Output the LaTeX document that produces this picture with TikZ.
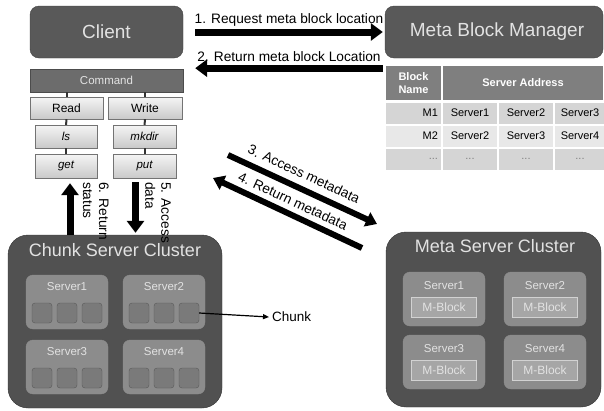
\documentclass[tikz,border=0pt]{standalone}
\usepackage{fontspec}
\setmainfont{Liberation Sans}
\usepackage{tikz}
\usetikzlibrary{arrows.meta}

\definecolor{boxgray}{HTML}{595959}
\definecolor{clustergray}{HTML}{515151}
\definecolor{srvgray}{HTML}{8C8C8C}
\definecolor{cubegray}{HTML}{7A7A7A}
\definecolor{lighttext}{HTML}{E2E2E2}
\definecolor{headgray}{HTML}{7F7F7F}
\definecolor{rowdark}{HTML}{D5D5D5}
\definecolor{rowlight}{HTML}{E8E8E8}

\tikzset{
  topbox/.style={draw=black!75, fill=boxgray, rounded corners=9pt, text=lighttext,
    inner sep=0pt, minimum height=52pt, font=\fontsize{19}{22}\selectfont},
  opbox/.style={draw=black!55, top color=gray!8, bottom color=gray!42, inner sep=0pt,
    minimum height=22pt, font=\fontsize{12}{14}\selectfont},
  link/.style={line width=2pt, draw=black!80},
  bigarrow/.style={line width=7pt, -{Triangle[length=12pt,width=17pt]}},
  diagarrow/.style={line width=6pt},
  cluster/.style={draw=black!80, fill=clustergray, rounded corners=20pt, inner sep=0pt},
  clustitle/.style={text=lighttext, font=\fontsize{18}{22}\selectfont},
  srvbox/.style={draw=black!45, fill=srvgray, rounded corners=7pt, inner sep=0pt,
    minimum width=82pt, minimum height=54pt},
  srvlabel/.style={text=lighttext, font=\fontsize{11.5}{13}\selectfont},
  cube/.style={draw=black!65, fill=cubegray, rounded corners=3pt, inner sep=0pt, minimum size=20pt},
  mblock/.style={draw=gray!35, fill=gray!70, inner sep=0pt, minimum width=65pt, minimum height=20pt,
    text=lighttext, font=\fontsize{12}{14}\selectfont},
  cell/.style={draw=white, line width=2pt, inner sep=0pt, font=\fontsize{11}{13}\selectfont},
  steplabel/.style={font=\fontsize{13.7}{16}\selectfont, inner sep=0pt}
}

\begin{document}
\begin{tikzpicture}[x=1pt,y=-1pt]
\useasboundingbox[fill=white] (0,0) rectangle (604,410);

% client side
\node[topbox, minimum width=153pt] (client) at (106.5,32) {Client};
\node[draw=black!70, fill=gray!85!black, text=lighttext, inner sep=0pt, minimum width=153pt,
  minimum height=23pt, font=\fontsize{11.5}{14}\selectfont] (cmd) at (106.5,80.5) {Command};
\node[opbox, minimum width=73pt] (read) at (66.5,108) {Read};
\node[opbox, minimum width=74pt] (write) at (145,108) {Write};
\node[opbox, minimum width=62pt, minimum height=23pt, font=\fontsize{11.5}{14}\selectfont\itshape] (ls) at (66,136.5) {ls};
\node[opbox, minimum width=63pt, minimum height=23pt, font=\fontsize{11.5}{14}\selectfont\itshape] (mkdir) at (144.5,136.5) {mkdir};
\node[opbox, minimum width=62pt, minimum height=24pt, font=\fontsize{11.5}{14}\selectfont\itshape] (get) at (66,166) {get};
\node[opbox, minimum width=63pt, minimum height=24pt, font=\fontsize{11.5}{14}\selectfont\itshape] (put) at (144.5,166) {put};
\draw[link] (cmd.south -| read.north) -- (read.north);
\draw[link] (cmd.south -| write.north) -- (write.north);
\draw[link] (read) -- (ls);
\draw[link] (ls) -- (get);
\draw[link] (write) -- (mkdir);
\draw[link] (mkdir) -- (put);

% meta block manager and its table
\node[topbox, minimum width=218pt] (mbm) at (494,32) {\hspace*{6pt}Meta Block Manager};
\node[cell, fill=headgray, minimum width=57pt, minimum height=36pt, text=white, align=left,
  font=\fontsize{11}{13}\selectfont\bfseries] (bname) at (413.5,83) {Block\\Name};
\node[cell, fill=headgray, minimum width=162pt, minimum height=36pt, text=white,
  font=\fontsize{11}{13}\selectfont\bfseries] (saddr) at (523,83) {Server Address};
\foreach \r/\y/\c/\m/\a/\b/\d in {1/113/rowdark/M1/Server1/Server2/Server3,
                                 2/136/rowlight/M2/Server2/Server3/Server4} {
  \node[cell, fill=\c, minimum width=57pt, minimum height=23pt, text width=49pt, align=right] (m\r) at (413.5,\y) {\m};
  \node[cell, fill=\c, minimum width=56pt, minimum height=23pt] (s\r a) at (470,\y) {\a};
  \node[cell, fill=\c, minimum width=56pt, minimum height=23pt] (s\r b) at (526,\y) {\b};
  \node[cell, fill=\c, minimum width=52pt, minimum height=23pt] (s\r c) at (580,\y) {\d};
}
\node[cell, fill=rowdark, minimum width=57pt, minimum height=23pt, text width=49pt, align=right, text=gray] (m3) at (413.5,159) {...};
\node[cell, fill=rowdark, minimum width=56pt, minimum height=23pt, text=gray] (s3a) at (470,159) {...};
\node[cell, fill=rowdark, minimum width=56pt, minimum height=23pt, text=gray] (s3b) at (526,159) {...};
\node[cell, fill=rowdark, minimum width=52pt, minimum height=23pt, text=gray] (s3c) at (580,159) {...};

% steps 1 and 2
\draw[bigarrow] ([xshift=12pt]client.east) -- ([xshift=-2pt]mbm.west)
  node[midway, above=2pt, steplabel] {1. Request meta block location};
\draw[bigarrow] ([xshift=-2pt,yshift=-10pt]mbm.south west) -- ([xshift=12pt,yshift=-10pt]client.south east)
  node[midway, above=3pt, steplabel] {2. Return meta block Location};

% chunk server cluster
\node[cluster, minimum width=214pt, minimum height=173pt] (chunkcl) at (115,321.5) {};
\node[clustitle] (chunktitle) at (115,250) {Chunk Server Cluster};
\foreach \n/\x/\y in {1/26/275, 2/123/275, 3/26/340, 4/123/340} {
  \node[srvbox] (srv\n) at (\x+41,\y+27) {};
  \node[srvlabel] at (\x+41,\y+12) {Server\n};
  \foreach \k in {1,2,3}
    \node[cube] (c\n-\k) at ({\x+16+25*(\k-1)},\y+38) {};
}
\node[anchor=west, font=\fontsize{13.5}{16}\selectfont, inner sep=0pt] (chunk) at (272,317) {Chunk};
\draw[line width=1.2pt, -{Triangle[length=6pt,width=5pt]}] (c2-3.east) -- ([xshift=-3pt]chunk.west);

% steps 5 and 6
\draw[bigarrow] ([xshift=4pt]get.south |- chunkcl.north) -- ([xshift=4pt,yshift=-5pt]get.south);
\draw[bigarrow, shorten >=2pt] ([xshift=-9pt,yshift=-4pt]put.south) -- ([xshift=-9pt]put.south |- chunkcl.north);
\node[steplabel, rotate=-90, anchor=north west, align=left] (ret6) at (109,182) {6. Return\\status};
\node[steplabel, rotate=-90, anchor=north west, align=left] (acc5) at (171,182) {5. Access\\data};

% meta server cluster
\node[cluster, minimum width=215pt, minimum height=175pt] (metacl) at (493.5,319.5) {};
\node[clustitle] (metatitle) at (495,246) {Meta Server Cluster};
\foreach \n/\x/\y in {1/403/272, 2/504/272, 3/403/335, 4/504/335} {
  \node[srvbox] (msrv\n) at (\x+41,\y+27) {};
  \node[srvlabel] at (\x+41,\y+14) {Server\n};
  \node[mblock] (mb\n) at (\x+41,\y+35) {M-Block};
}

% steps 3 and 4
\coordinate (a3s) at (228,155);
\coordinate (a3e) at (377,224);
\coordinate (a4s) at (213,178);
\coordinate (a4e) at (362,248);
\draw[diagarrow, -{Triangle[length=11pt,width=15pt]}] (a3s) -- (a3e);
\draw[diagarrow, {Triangle[length=11pt,width=15pt]}-] (a4s) -- (a4e);
\node[steplabel, rotate=-24.85] (lab3) at (304,174) {3. Access metadata};
\node[steplabel, rotate=-24.85] (lab4) at (293,201) {4. Return metadata};
\end{tikzpicture}
\end{document}
